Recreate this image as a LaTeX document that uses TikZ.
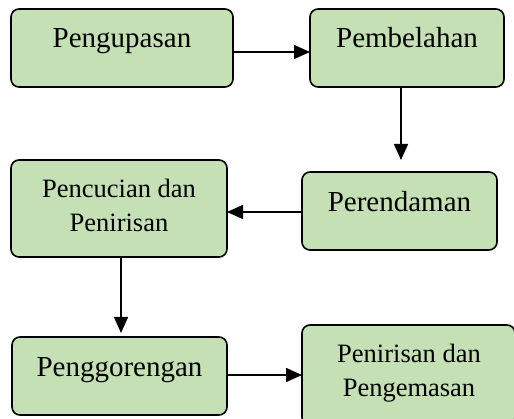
\documentclass[tikz,border=0pt]{standalone}
\usepackage{fontspec}
\setmainfont{Liberation Serif}
\usetikzlibrary{arrows.meta}
\definecolor{boxfill}{HTML}{C5E0B4}
\begin{document}
\begin{tikzpicture}[x=1pt,y=-1pt,
 box/.style={draw=black, line width=1.6pt, fill=boxfill, rounded corners=8pt, inner sep=0pt, outer sep=0pt},
 big/.style={font=\fontsize{29}{35}\selectfont, inner sep=0pt, anchor=base},
 small/.style={font=\fontsize{26.5}{34}\selectfont, inner sep=0pt, anchor=base},
 arr/.style={line width=1.5pt, -{Triangle[length=16pt,width=14pt]}}]
\useasboundingbox (0,0) rectangle (514,419);
% boxes
\node[box, minimum width=222pt, minimum height=78pt] (b1) at (122,48) {};
\node[box, minimum width=194pt, minimum height=78pt] (b2) at (407,48) {};
\node[box, minimum width=195pt, minimum height=78pt] (b3) at (399.5,211) {};
\node[box, minimum width=216pt, minimum height=97pt] (b4) at (119,208.5) {};
\node[box, minimum width=215pt, minimum height=78pt] (b5) at (119.5,376) {};
\node[box, minimum width=213pt, minimum height=100pt] (b6) at (408.5,375) {};
% texts
\node[big] (t1) at (122,48) {Pengupasan};
\node[big] (t2) at (407,48) {Pembelahan};
\node[big] (t3) at (399.5,212) {Perendaman};
\node[small] (t4a) at (119,198) {Pencucian dan};
\node[small] (t4b) at (119,232) {Penirisan};
\node[big] (t5) at (119.5,377) {Penggorengan};
\node[small] (t6a) at (409,363) {Penirisan dan};
\node[small] (t6b) at (409,397) {Pengemasan};
% connectors
\coordinate (e2) at (401,160);
\coordinate (e4) at (121,333);
\draw[arr] ([yshift=-4pt]b1.east) -- ([yshift=-4pt]b1.east -| b2.west);
\draw[arr] (b2.south -| e2) -- (e2);
\draw[arr] ([yshift=-1pt]b3.west) -- ([yshift=-1pt]b3.west -| b4.east);
\draw[arr] (b4.south -| e4) -- (e4);
\draw[arr] ([yshift=1pt]b5.east) -- ([yshift=1pt]b5.east -| b6.west);
\end{tikzpicture}
\end{document}
